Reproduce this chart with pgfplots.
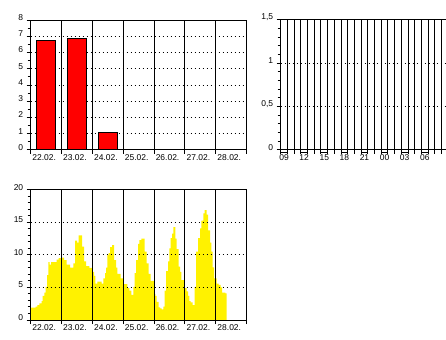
\documentclass[border=0pt]{standalone}
\usepackage{pgfplots}
\pgfplotsset{compat=1.18}
\usepackage{fontspec}
\setmainfont{Liberation Sans}
\begin{document}
\begin{tikzpicture}
\pgfplotsset{
 base/.style={
  scale only axis,
  anchor=south west,
  axis line style={black, line width=1bp},
  tick style={black, line width=1bp},
  tick align=outside,
  xtick pos=lower, ytick pos=lower,
  major tick length=4bp, minor tick length=3bp,
  tick label style={font=\fontsize{8.5}{10}\selectfont},
  /pgf/number format/assume math mode=true,
  major x grid style={black, line width=1bp},
  major y grid style={black, line width=1bp, dash pattern=on 1bp off 3bp},
  xmajorgrids, ymajorgrids,
  yticklabel style={yshift=2.5bp},
 },
 days/.style={
  base, xmin=0, xmax=7, xtick={0,...,7}, xticklabels={},
  extra x ticks={0.5,1.5,2.5,3.5,4.5,5.5,6.5},
  extra x tick labels={22.02.,23.02.,24.02.,25.02.,26.02.,27.02.,28.02.},
  extra x tick style={grid=none, major tick length=0pt, xticklabel style={xshift=-2bp, yshift=-1.5bp}},
  width=216bp, height=130bp,
 }
}
% top left
\begin{axis}[days, at={(30.7bp,190bp)}, ymin=0, ymax=8, ytick={0,...,8}, minor y tick num=1]
\addplot[ybar, bar width=19bp, fill=red, draw=black, line width=1bp] coordinates {(0.5,6.75) (1.5,6.87) (2.5,1.08)};
\end{axis}
% top right
\begin{axis}[base, at={(280.7bp,190bp)}, width=166.2bp, height=130bp,
  xmin=0, xmax=24.8, xtick={0,...,24}, xticklabels={},
  extra x ticks={0.5,3.5,6.5,9.5,12.5,15.5,18.5,21.5},
  extra x tick labels={09,12,15,18,21,00,03,06},
  extra x tick style={grid=none, major tick length=0pt, xticklabel style={yshift=-1.5bp}},
  ymin=0, ymax=1.5, ytick={0,0.5,1,1.5}, yticklabels={0,{0,5},1,{1,5}},
  minor y tick num=4, clip=false]
\addplot[ybar, bar width=6.7bp, draw=black, fill=none, line width=1bp, yshift=-2.3bp] coordinates {(0.5,0) (3.5,0) (6.5,0) (9.5,0) (12.5,0) (15.5,0) (18.5,0) (21.5,0)};
\end{axis}
% bottom
\begin{axis}[days, at={(30.7bp,20bp)}, ymin=0, ymax=20, ytick={0,5,10,15,20}, minor y tick num=4, axis on top]
\addplot[const plot mark left, fill=yellow, draw=none] coordinates {
(0,1.9) (0.162,2.05) (0.216,2.3) (0.281,2.55) (0.356,2.9) (0.389,3.7) (0.443,4.2) (0.486,5.1) (0.529,6.9) (0.573,8.9) (0.616,8.5) (0.659,8.9) (0.843,9.3) (0.907,9.5)
(1.0,9.6) (1.080,9.2) (1.167,8.5) (1.275,8.05) (1.383,8.7) (1.437,12.2) (1.502,11.9) (1.556,13.0) (1.664,11.3) (1.728,9.0) (1.793,8.3) (1.901,8.0)
(2.0,7.4) (2.053,6.8) (2.096,5.6) (2.161,5.9) (2.301,5.6) (2.355,6.4) (2.409,7.2) (2.441,8.05) (2.485,10.0) (2.528,10.3) (2.571,11.2) (2.636,11.5) (2.701,9.2) (2.765,8.05) (2.809,7.1) (2.917,6.4)
(3.0,5.5) (3.133,4.9) (3.198,4.5) (3.262,3.85) (3.327,5.1) (3.370,7.2) (3.414,9.2) (3.478,11.7) (3.522,12.3) (3.586,12.5) (3.694,10.5) (3.759,8.7) (3.824,7.1) (3.889,6.0)
(4.0,4.0) (4.040,3.7) (4.083,2.8) (4.148,1.95) (4.191,1.8) (4.245,1.65) (4.299,2.05) (4.343,4.5) (4.386,7.5) (4.451,9.0) (4.494,11.0) (4.537,12.6) (4.580,13.3) (4.624,14.3) (4.688,12.5) (4.732,10.9) (4.796,8.2) (4.840,7.4) (4.883,6.15)
(5.0,4.9) (5.057,4.4) (5.099,3.7) (5.142,2.9) (5.185,2.7) (5.250,2.3) (5.315,5.1) (5.358,10.5) (5.423,12.6) (5.488,14.1) (5.531,15.3) (5.596,16.4) (5.639,16.9) (5.704,16.2) (5.747,13.8) (5.812,11.9) (5.855,10.5) (5.898,8.1) (5.941,6.4)
(6.028,5.6) (6.093,5.4) (6.158,5.0) (6.201,4.2) (6.309,4.1) (6.352,4.1)
} \closedcycle;
\end{axis}
\pgfresetboundingbox
\useasboundingbox (0,0) rectangle (446bp,340bp);
\end{tikzpicture}
\end{document}
